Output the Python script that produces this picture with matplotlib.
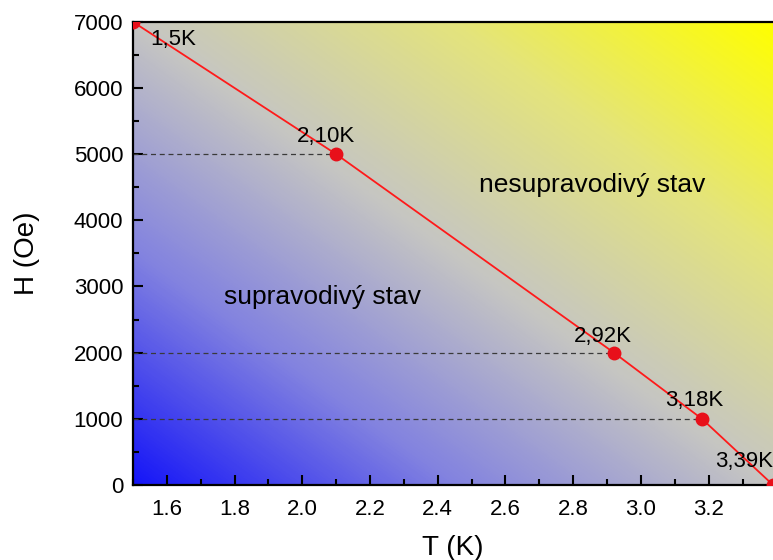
import numpy as np
import matplotlib
matplotlib.use("Agg")
import matplotlib.pyplot as plt
from matplotlib.colors import LinearSegmentedColormap
from matplotlib.ticker import MultipleLocator

plt.rcParams['font.family'] = ['Liberation Sans', 'DejaVu Sans']

T = [1.5, 2.10, 2.92, 3.18, 3.39]
H = [7000, 5000, 2000, 1000, 0]
labels = ["1,5K", "2,10K", "2,92K", "3,18K", "3,39K"]
dashed_idx = [1, 2, 3]

fig = plt.figure(figsize=(7.73, 5.6), dpi=100)
ax = fig.add_axes([0.172, 0.134, 0.828, 0.827])
xmin, xmax, ymin, ymax = 1.5, 3.39, 0, 7000

# gradient background
cmap = LinearSegmentedColormap.from_list(
    "bg", [(0.0, "#1515f8"), (0.25, "#8282e0"), (0.5, "#c6c6c2"), (0.75, "#e4e47c"), (1.0, "#ffff00")])
u = np.linspace(0, 1, 400)
v = np.linspace(0, 1, 400)
U, V = np.meshgrid(u, v)
G = (U + V) / 2
ax.imshow(G, cmap=cmap, extent=[xmin, xmax, ymin, ymax], origin="lower", aspect="auto", zorder=0, vmin=0, vmax=1)

for i in dashed_idx:
    ax.plot([xmin, T[i]], [H[i], H[i]], ls=(0, (4, 3)), color="#3a3a3a", lw=0.9, zorder=2)

ax.plot(T, H, color="#ff1a1a", lw=1.3, zorder=3, clip_on=True)
ax.plot(T, H, "o", color="#e8101a", ms=9, zorder=4, clip_on=True)

fs = 16
ax.text(1.55, 6730, labels[0], fontsize=fs, ha="left", va="center", zorder=5)
ax.text(2.07, 5260, labels[1], fontsize=fs, ha="center", va="center", zorder=5)
ax.text(2.889, 2240, labels[2], fontsize=fs, ha="center", va="center", zorder=5)
ax.text(3.156, 1270, labels[3], fontsize=fs, ha="center", va="center", zorder=5)
ax.text(3.22, 350, labels[4], fontsize=fs, ha="left", va="center", zorder=5, clip_on=False)

ax.text(2.856, 4536, "nesupravodivý stav", fontsize=19, ha="center", va="center", zorder=5)
ax.text(2.059, 2843, "supravodivý stav", fontsize=19, ha="center", va="center", zorder=5)

ax.set_xlim(xmin, xmax)
ax.set_ylim(ymin, ymax)
ax.xaxis.set_major_locator(MultipleLocator(0.2))
ax.xaxis.set_minor_locator(MultipleLocator(0.1))
ax.yaxis.set_major_locator(MultipleLocator(1000))
ax.yaxis.set_minor_locator(MultipleLocator(500))
ax.tick_params(which="both", direction="in", labelsize=16, width=1.5, top=False, right=False)
ax.tick_params(which="major", length=7, pad=7)
ax.tick_params(axis="x", which="major", pad=10)
ax.tick_params(which="minor", length=4)
ax.set_xticks([1.6, 1.8, 2.0, 2.2, 2.4, 2.6, 2.8, 3.0, 3.2])
ax.set_xticklabels(["1.6", "1.8", "2.0", "2.2", "2.4", "2.6", "2.8", "3.0", "3.2"])
for s in ["left", "bottom", "top"]:
    ax.spines[s].set_linewidth(1.6)
ax.spines["right"].set_visible(False)

ax.set_xlabel("T (K)", fontsize=20, labelpad=11)
ax.set_ylabel("H (Oe)", fontsize=20, labelpad=24)

fig.savefig("out.png", dpi=100)
